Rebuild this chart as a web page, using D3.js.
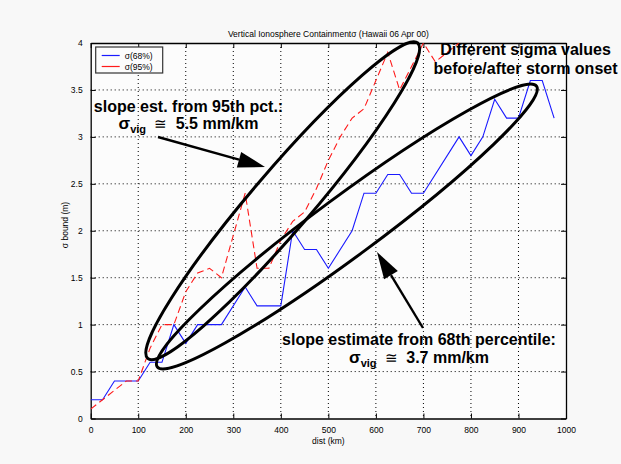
<!DOCTYPE html>
<html>
<head>
<meta charset="utf-8">
<script src="https://cdn.jsdelivr.net/npm/d3@7"></script>
<style>
  body { margin: 0; background: #f8f8f8; }
  text { font-family: "Liberation Sans", Arial, sans-serif; }
</style>
</head>
<body>
<div id="chart"></div>
<script>
// 68th percentile sigma bound (blue, solid)
var dist68 = [0, 25, 50, 100, 125, 150, 175, 200, 225, 275, 325, 350, 400, 425, 450, 475, 500, 550, 575, 600, 625, 650, 675, 700, 775, 800, 825, 850, 875, 900, 925, 950, 975];
var sigma68 = [0.2, 0.2, 0.4, 0.4, 0.6, 0.6, 1.0, 0.8, 1.0, 1.0, 1.4, 1.2, 1.2, 2.0, 1.8, 1.8, 1.6, 2.0, 2.4, 2.4, 2.6, 2.6, 2.4, 2.4, 3.0, 2.8, 3.0, 3.4, 3.2, 3.2, 3.6, 3.6, 3.2];

// 95th percentile sigma bound (red, dashed)
var dist95 = [0, 25, 50, 75, 100, 125, 150, 175, 200, 225, 250, 275, 325, 350, 375, 400, 425, 450, 475, 500, 525, 550, 575, 600, 625, 650, 675, 700, 725, 750, 775];
var sigma95 = [0.1, 0.2, 0.3, 0.4, 0.4, 0.75, 1.0, 1.0, 1.35, 1.55, 1.6, 1.5, 2.4, 1.6, 1.6, 1.9, 2.1, 2.2, 2.45, 2.75, 3.0, 3.2, 3.3, 3.6, 3.9, 3.5, 3.75, 4.0, 3.8, 3.9, 4.0];

var xTicks = [0, 100, 200, 300, 400, 500, 600, 700, 800, 900, 1000];
var yTicks = [0, 0.5, 1, 1.5, 2, 2.5, 3, 3.5, 4];
var yTickLabels = ["0", "0.5", "1", "1.5", "2", "2.5", "3", "3.5", "4"];
var legendLabels = ["\u03c3(68%)", "\u03c3(95%)"];

// annotation ellipses: tips in data units
var ellipseTipsA = [[120, 0.64], [140, 0.55]];
var ellipseTipsB = [[688, 4.0], [938, 3.54]];

// set the dimensions and margins of the graph
var W = 621, H = 464;
var margin = {top: 43, right: 55, bottom: 45.5, left: 90.7},
    width = W - margin.left - margin.right,
    height = H - margin.top - margin.bottom;

var x = d3.scaleLinear().domain([0, 1000]).range([0, width]);
var y = d3.scaleLinear().domain([0, 4]).range([height, 0]);

var svg = d3.select("#chart").append("svg")
    .attr("width", W).attr("height", H);

svg.append("rect").attr("width", W).attr("height", H).attr("fill", "#f8f8f8");

var g = svg.append("g")
    .attr("transform", "translate(" + margin.left + "," + margin.top + ")");

g.append("rect").attr("width", width).attr("height", height).attr("fill", "#fcfcfc");

svg.append("defs").append("clipPath").attr("id", "plotclip")
  .append("rect").attr("width", width).attr("height", height);

// grid
g.selectAll(".vgrid").data(xTicks.slice(1, -1)).enter().append("line")
    .attr("x1", d => x(d)).attr("x2", d => x(d))
    .attr("y1", 0).attr("y2", height)
    .attr("stroke", "#000").attr("stroke-width", 1).attr("stroke-dasharray", "1,3");
g.selectAll(".hgrid").data(yTicks.slice(1, -1)).enter().append("line")
    .attr("x1", 0).attr("x2", width)
    .attr("y1", d => y(d)).attr("y2", d => y(d))
    .attr("stroke", "#000").attr("stroke-width", 1).attr("stroke-dasharray", "1,3");

// axes (ticks inward, box on all sides)
g.append("g").attr("transform", "translate(0," + height + ")")
    .call(d3.axisBottom(x).tickValues(xTicks).tickFormat(d3.format("d"))
      .tickSizeInner(-5).tickSizeOuter(0).tickPadding(8));
g.append("g")
    .call(d3.axisLeft(y).tickValues(yTicks).tickFormat((d, i) => yTickLabels[i])
      .tickSizeInner(-5).tickSizeOuter(0).tickPadding(8));
g.append("g").call(d3.axisTop(x).tickValues(xTicks).tickSizeInner(-5).tickSizeOuter(0).tickFormat(""));
g.append("g").attr("transform", "translate(" + width + ",0)")
    .call(d3.axisRight(y).tickValues(yTicks).tickSizeInner(-5).tickSizeOuter(0).tickFormat(""));
g.selectAll(".domain").attr("stroke", "#000").attr("stroke-width", 1.3);
g.selectAll(".tick line").attr("stroke", "#000");
g.selectAll(".tick text").attr("font-size", 8.5).attr("fill", "#000")
    .attr("font-family", "'Liberation Sans', Arial, sans-serif");

// data lines
var pts68 = dist68.map((d, i) => [d, sigma68[i]]);
var pts95 = dist95.map((d, i) => [d, sigma95[i]]);
var line = d3.line().x(d => x(d[0])).y(d => y(d[1]));

var plot = g.append("g").attr("clip-path", "url(#plotclip)");
plot.append("path").datum(pts68).attr("d", line)
    .attr("fill", "none").attr("stroke", "#1a1aff").attr("stroke-width", 1.1);
plot.append("path").datum(pts95).attr("d", line)
    .attr("fill", "none").attr("stroke", "#ff1a1a").attr("stroke-width", 1.1)
    .attr("stroke-dasharray", "7,4");

// legend
var lg = g.append("g").attr("transform", "translate(5,4)");
lg.append("rect").attr("width", 67).attr("height", 26)
    .attr("fill", "#fcfcfc").attr("stroke", "#333").attr("stroke-width", 1.2);
lg.selectAll(".ll").data(legendLabels).enter().append("line")
    .attr("x1", 6).attr("x2", 24)
    .attr("y1", (d, i) => 8.5 + i * 11).attr("y2", (d, i) => 8.5 + i * 11)
    .attr("stroke", (d, i) => i === 0 ? "#1a1aff" : "#ff1a1a")
    .attr("stroke-width", 1.2);
lg.selectAll(".lt").data(legendLabels).enter().append("text")
    .attr("x", 29).attr("y", (d, i) => 11.5 + i * 11)
    .attr("font-size", 8.5).text(d => d);

// title and axis labels
svg.append("text").attr("x", margin.left + width / 2).attr("y", 37)
    .attr("text-anchor", "middle").attr("font-size", 8.5)
    .text("Vertical Ionosphere Containment\u03c3  (Hawaii 06 Apr 00)");
svg.append("text").attr("x", margin.left + width / 2).attr("y", 444)
    .attr("text-anchor", "middle").attr("font-size", 8.5).text("dist (km)");
svg.append("text").attr("transform", "translate(68,225) rotate(-90)")
    .attr("text-anchor", "middle").attr("font-size", 8.5).text("\u03c3 bound (m)");

// annotation ellipses
var ellipseSemiMinor = [30, 30];
ellipseTipsA.forEach(function(a, i) {
  var b = ellipseTipsB[i];
  var ax = x(a[0]), ay = y(a[1]), bx = x(b[0]), by = y(b[1]);
  var cx = (ax + bx) / 2, cy = (ay + by) / 2;
  var rx = Math.hypot(bx - ax, by - ay) / 2;
  var ang = Math.atan2(by - ay, bx - ax) * 180 / Math.PI;
  g.append("ellipse").attr("cx", cx).attr("cy", cy)
      .attr("rx", rx).attr("ry", ellipseSemiMinor[i])
      .attr("transform", "rotate(" + ang + "," + cx + "," + cy + ")")
      .attr("fill", "none").attr("stroke", "#000").attr("stroke-width", 3);
});

// arrows
function arrow(x1, y1, x2, y2) {
  var ang = Math.atan2(y2 - y1, x2 - x1), L = 27, hw = 8;
  var bx = x2 - L * Math.cos(ang), by = y2 - L * Math.sin(ang);
  svg.append("line").attr("x1", x1).attr("y1", y1).attr("x2", bx).attr("y2", by)
      .attr("stroke", "#000").attr("stroke-width", 2.4);
  svg.append("polygon").attr("points", [
      [x2, y2],
      [bx - hw * Math.sin(ang), by + hw * Math.cos(ang)],
      [bx + hw * Math.sin(ang), by - hw * Math.cos(ang)]].map(p => p.join(",")).join(" "))
      .attr("fill", "#000");
}
arrow(158, 137, 265, 167);
arrow(423, 328, 377, 252);

// annotation text
function label(cx, y0, line1, val) {
  svg.append("text").attr("x", cx).attr("y", y0).attr("text-anchor", "middle")
      .attr("font-size", 16).attr("font-weight", "bold").text(line1);
  if (val) {
    var t = svg.append("text").attr("x", cx).attr("y", y0 + 17.5).attr("text-anchor", "middle")
        .attr("font-size", 16).attr("font-weight", "bold");
    t.append("tspan").attr("font-size", 17).text("\u03c3");
    t.append("tspan").attr("font-size", 11).attr("dy", 4).text("vig");
    t.append("tspan").attr("font-size", 15).attr("font-weight", "normal").attr("dy", -4).text("\u00a0\u00a0\u2245\u00a0\u00a0");
    t.append("tspan").text(val);
  }
}
label(188.5, 111.5, "slope est. from 95th pct.:", "5.5 mm/km");
label(419, 345, "slope estimate from 68th percentile:", "3.7 mm/km");
label(525.5, 55, "Different sigma values", null);
label(525.5, 74, "before/after storm onset", null);
</script>
</body>
</html>
